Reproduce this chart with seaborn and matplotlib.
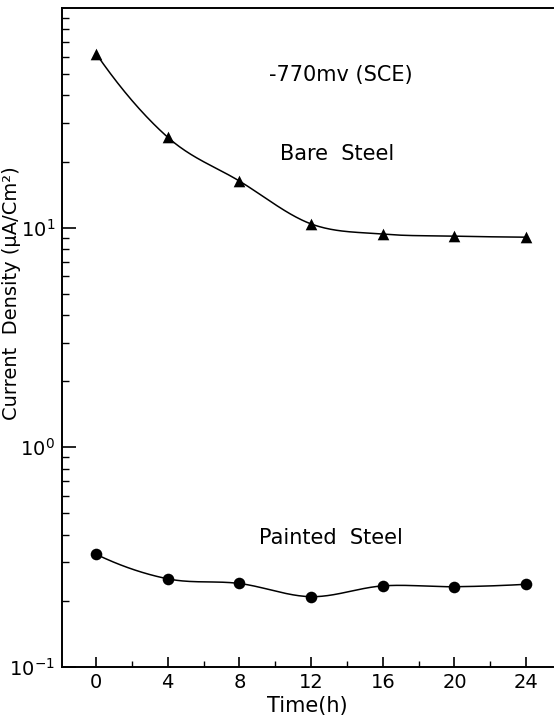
import numpy as np
import pandas as pd
import matplotlib
matplotlib.use("Agg")
import matplotlib.pyplot as plt
import seaborn as sns
from matplotlib.ticker import FixedLocator, LogLocator, NullFormatter, FixedFormatter

# ---- data ----
time_h = [0, 4, 8, 12, 16, 20, 24]
bare_steel = [62.0, 25.8, 16.3, 10.4, 9.35, 9.15, 9.05]
painted_steel = [0.326, 0.252, 0.240, 0.209, 0.234, 0.232, 0.238]
x_major = [0, 4, 8, 12, 16, 20, 24]
x_minor = [2, 6, 10, 14, 18, 22]
y_major = [0.1, 1, 10]
y_major_labels = ["$10^{-1}$", "$10^{0}$", "$10^{1}$"]


def smooth_log(x, y, n=300):
    """Cubic Hermite (Catmull-Rom style) curve through the points, in log10 space."""
    x = np.asarray(x, float)
    ly = np.log10(np.asarray(y, float))
    m = len(x)
    d = np.diff(ly) / np.diff(x)
    tang = np.empty(m)
    tang[1:-1] = (ly[2:] - ly[:-2]) / (x[2:] - x[:-2])
    tang[0] = 2 * d[0] - tang[1]
    tang[-1] = 2 * d[-1] - tang[-2]
    xs = np.linspace(x[0], x[-1], n)
    idx = np.clip(np.searchsorted(x, xs) - 1, 0, m - 2)
    h = x[idx + 1] - x[idx]
    t = (xs - x[idx]) / h
    h00 = 2 * t ** 3 - 3 * t ** 2 + 1
    h10 = t ** 3 - 2 * t ** 2 + t
    h01 = -2 * t ** 3 + 3 * t ** 2
    h11 = t ** 3 - t ** 2
    ys = h00 * ly[idx] + h10 * h * tang[idx] + h01 * ly[idx + 1] + h11 * h * tang[idx + 1]
    return xs, 10 ** ys


sns.set_style("ticks")
plt.rcParams["font.family"] = ["DejaVu Sans"]
plt.rcParams["mathtext.fontset"] = "dejavusans"
for k in ["text.color", "axes.labelcolor", "xtick.color", "ytick.color", "axes.edgecolor"]:
    plt.rcParams[k] = "black"

fig = plt.figure(figsize=(5.56, 7.21), dpi=100)
ax = fig.add_axes([62 / 556, 1 - 667 / 721, (553 - 62) / 556, (667 - 8) / 721])

points = pd.DataFrame({"t": time_h, "bare": bare_steel, "painted": painted_steel})
bx, by = smooth_log(time_h, bare_steel)
px, py = smooth_log(time_h, painted_steel)
curves = pd.DataFrame({"t": bx, "bare": by, "t2": px, "painted": py})

sns.lineplot(data=curves, x="t", y="bare", ax=ax, color="black", lw=1.1,
             estimator=None, sort=False)
sns.lineplot(data=curves, x="t2", y="painted", ax=ax, color="black", lw=1.1,
             estimator=None, sort=False)
sns.scatterplot(data=points, x="t", y="bare", ax=ax, marker="^", s=70,
                color="black", edgecolor="black", linewidth=0, zorder=3)
sns.scatterplot(data=points, x="t", y="painted", ax=ax, marker="o", s=70,
                color="black", edgecolor="black", linewidth=0, zorder=3)

ax.set_yscale("log")
ax.set_ylim(0.1, 100)
ax.set_xlim(-1.9, 25.5)

ax.xaxis.set_major_locator(FixedLocator(x_major))
ax.xaxis.set_minor_locator(FixedLocator(x_minor))
ax.set_xticklabels([str(v) for v in x_major])
ax.yaxis.set_major_locator(FixedLocator(y_major))
ax.yaxis.set_major_formatter(FixedFormatter(y_major_labels))
ax.yaxis.set_minor_locator(LogLocator(base=10, subs=range(2, 10)))
ax.yaxis.set_minor_formatter(NullFormatter())

ax.tick_params(axis="x", which="major", direction="in", length=7, width=1.2,
               labelsize=14, pad=4)
ax.tick_params(axis="x", which="minor", direction="in", length=4, width=1.0)
ax.tick_params(axis="y", which="major", direction="in", length=10, width=1.2,
               labelsize=14, pad=5)
ax.tick_params(axis="y", which="minor", direction="in", length=5, width=1.0)

for s in ["left", "top", "bottom"]:
    ax.spines[s].set_linewidth(1.4)
ax.spines["right"].set_visible(False)

ax.set_xlabel("Time(h)", fontsize=15, labelpad=3)
ax.set_ylabel("Current  Density (μA/Cm²)", fontsize=14)
ax.yaxis.set_label_coords(-0.083, 0.567)

ax.text(0.568, 0.898, "-770mv (SCE)", transform=ax.transAxes, fontsize=15,
        ha="center", va="center")
ax.text(0.560, 0.778, "Bare  Steel", transform=ax.transAxes, fontsize=15,
        ha="center", va="center")
ax.text(0.548, 0.196, "Painted  Steel", transform=ax.transAxes, fontsize=15,
        ha="center", va="center")

fig.savefig("out.png", dpi=100)
